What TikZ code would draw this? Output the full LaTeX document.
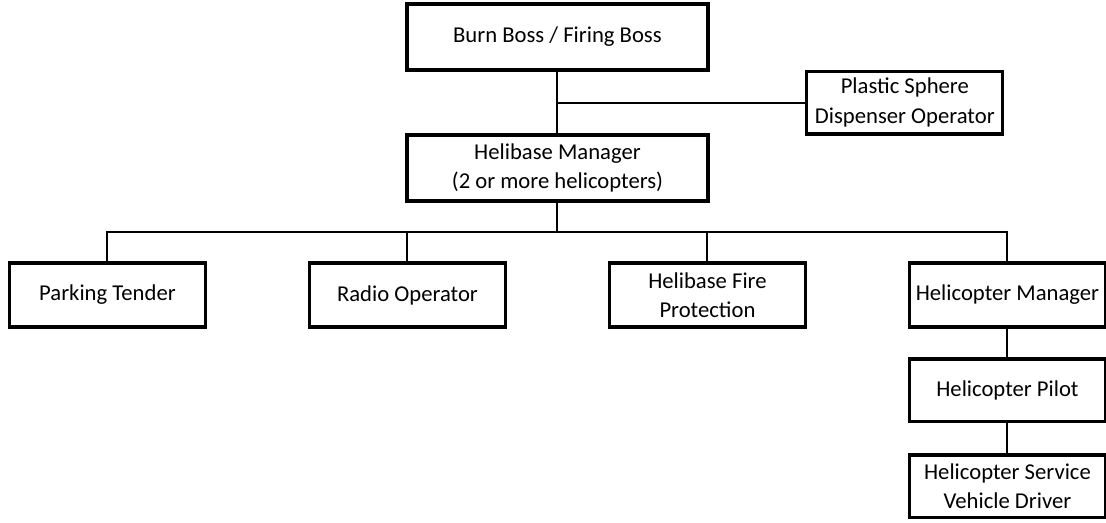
\documentclass[tikz,border=0pt]{standalone}
\usepackage{fontspec}
\setmainfont{Carlito}
\usetikzlibrary{positioning,calc}

\tikzset{
  bigbox/.style={draw, line width=2.5pt, outer sep=0pt, minimum width=225.75pt, minimum height=49.5pt,
                 inner sep=2pt, align=center, font=\fontsize{17}{22}\selectfont},
  smallbox/.style={draw, line width=2.5pt, outer sep=0pt, minimum width=147pt, minimum height=48pt,
                   inner sep=2pt, align=center, font=\fontsize{17}{22}\selectfont},
  link/.style={line width=1.5pt}
}

\begin{document}
\begin{tikzpicture}[node distance=78pt]

    \useasboundingbox (0,0) rectangle (829.5pt,-391.5pt);

    % Define nodes
    \node[bigbox] (burn) at (418.1pt,-27.75pt) {Burn Boss / Firing Boss};
    \node[bigbox, below=48.75pt of burn]  (heli) {Helibase Manager\\(2 or more helicopters)};
    \coordinate (jn) at ($(burn.south)!0.5!(heli.north)$);
    \node[smallbox, right=187pt of jn, minimum height=47pt] (plastic) {Plastic Sphere\\Dispenser Operator};

    \node[smallbox, below=46.5pt of heli, xshift=-112.5pt] (radio) {Radio Operator};
    \node[smallbox, left=of radio]   (park)  {Parking Tender};
    \node[smallbox, right=of radio]  (fire)  {Helibase Fire\\Protection};
    \node[smallbox, right=of fire]   (hmgr)  {Helicopter Manager};
    \node[smallbox, below=24pt of hmgr, minimum height=47pt]   (pilot)  {Helicopter Pilot};
    \node[smallbox, below=25pt of pilot, minimum height=47pt]  (driver) {Helicopter Service\\Vehicle Driver};

    \coordinate (bus) at ($(heli.south)!0.5!(heli.south |- radio.north)$);

    % Connect the nodes
    \draw[link] (burn) -- (heli);
    \draw[link] (jn) -- (plastic);
    \draw[link] (heli) -- (bus);
    \foreach \n in {park,radio,fire,hmgr}
      \draw[link] (bus) -| (\n.north);
    \draw[link] (hmgr) -- (pilot);
    \draw[link] (pilot) -- (driver);

\end{tikzpicture}
\end{document}
